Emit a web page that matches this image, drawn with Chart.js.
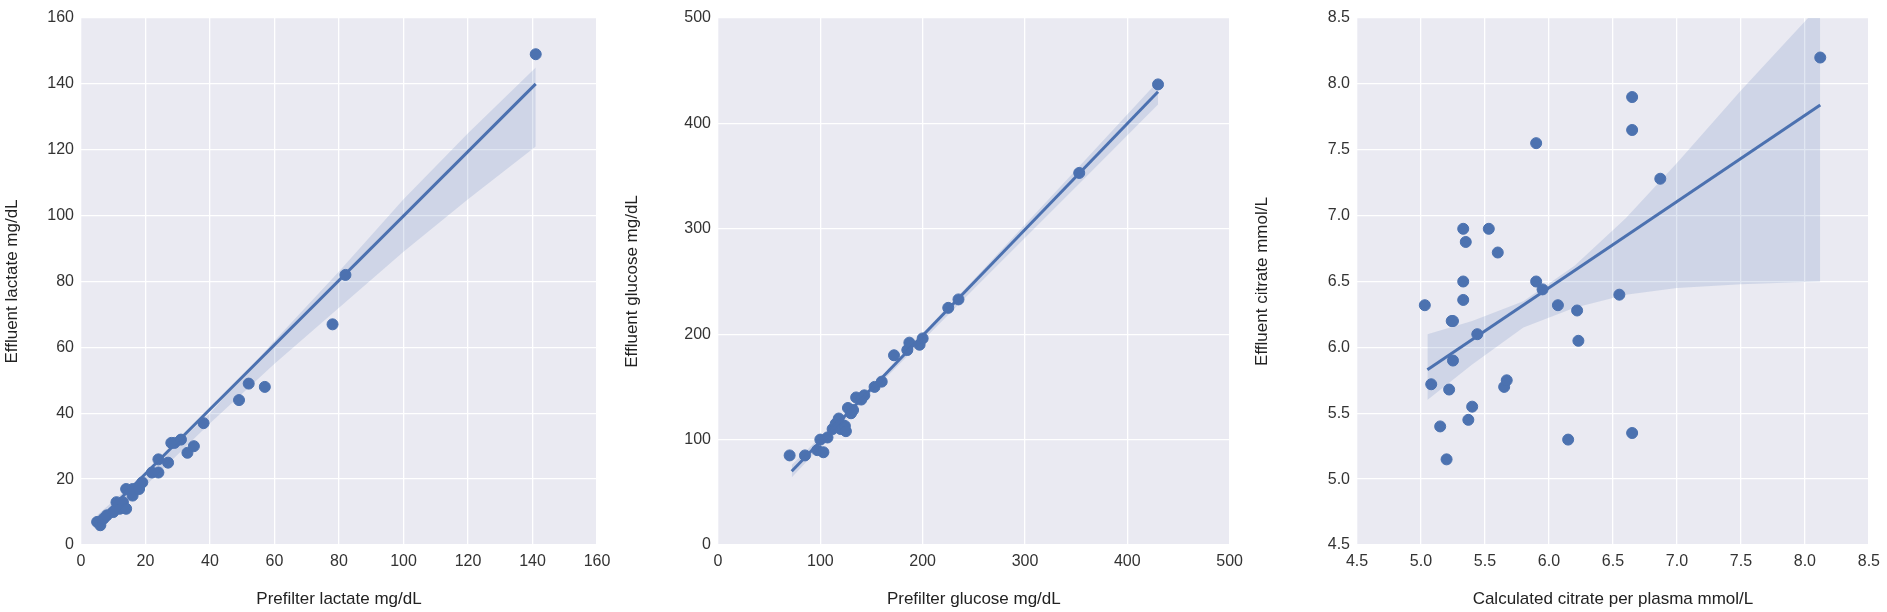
<!DOCTYPE html>
<html>
<head>
<meta charset="utf-8">
<script src="https://cdn.jsdelivr.net/npm/chart.js@4"></script>
<style>
  body { margin: 0; background: #fff; }
  .panel { position: absolute; top: 0; height: 612px; }
</style>
</head>
<body>
<div class="panel" style="left:0;width:620px"><canvas id="c1"></canvas></div>
<div class="panel" style="left:620px;width:630px"><canvas id="c2"></canvas></div>
<div class="panel" style="left:1250px;width:637px"><canvas id="c3"></canvas></div>
<script>
// lactate
const lacX = [5, 6, 7, 8, 10, 11, 12, 13, 14, 14, 16, 16, 18, 19, 22, 24, 24, 27, 28, 29, 31, 33, 35, 38, 49, 52, 57, 78, 82, 141];
const lacY = [7, 6, 8, 9, 10, 13, 11, 13, 17, 11, 15, 17, 17, 19, 22, 22, 26, 25, 31, 31, 32, 28, 30, 37, 44, 49, 48, 67, 82, 149];
const lacFitX = [5, 141];
const lacFitY = [7, 140];
const lacBandX = [5, 20, 40, 60, 80, 100, 120, 141];
const lacBandLo = [4, 18, 37, 55, 72, 89, 105, 121];
const lacBandHi = [9, 22, 40, 62, 83, 105, 125, 145];

// glucose
const gluX = [70, 85, 97, 100, 103, 107, 112, 115, 118, 120, 124, 125, 127, 130, 132, 135, 140, 143, 153, 160, 172, 185, 187, 197, 200, 225, 235, 353, 430];
const gluY = [85, 85, 90, 100, 88, 102, 110, 115, 120, 110, 113, 108, 130, 125, 128, 140, 138, 142, 150, 155, 180, 185, 192, 190, 196, 225, 233, 353, 437];
const gluFitX = [72, 430];
const gluFitY = [70, 430];
const gluBandX = [72, 150, 250, 350, 430];
const gluBandLo = [64, 145, 243, 340, 418];
const gluBandHi = [76, 150, 252, 356, 440];

// citrate
const citX = [5.03, 5.08, 5.15, 5.2, 5.22, 5.24, 5.25, 5.25, 5.33, 5.35, 5.33, 5.33, 5.37, 5.4, 5.44, 5.53, 5.6, 5.65, 5.67, 5.9, 5.9, 5.95, 6.07, 6.15, 6.22, 6.23, 6.55, 6.65, 6.65, 6.65, 6.87, 8.12];
const citY = [6.32, 5.72, 5.4, 5.15, 5.68, 6.2, 6.2, 5.9, 6.9, 6.8, 6.5, 6.36, 5.45, 5.55, 6.1, 6.9, 6.72, 5.7, 5.75, 7.55, 6.5, 6.44, 6.32, 5.3, 6.28, 6.05, 6.4, 7.9, 7.65, 5.35, 7.28, 8.2];
const citFitX = [5.05, 8.12];
const citFitY = [5.83, 7.84];
const citBandX = [5.05, 5.4, 5.8, 6.2, 6.6, 7.0, 7.5, 8.12];
const citBandLo = [5.6, 5.87, 6.15, 6.3, 6.4, 6.45, 6.48, 6.5];
const citBandHi = [6.1, 6.2, 6.35, 6.62, 6.98, 7.4, 7.95, 8.6];

const blue = "#4C72B0";
const pairs = (xs, ys) => xs.map((x, i) => ({ x: x, y: ys[i] }));

const bgPlugin = {
  id: "bg",
  beforeDraw(chart) {
    const a = chart.chartArea, c = chart.ctx;
    c.save();
    c.fillStyle = "#EAEAF2";
    c.fillRect(a.left, a.top, a.right - a.left, a.bottom - a.top);
    c.restore();
  }
};

function makeChart(id, o) {
  const tick = { color: "#333", font: { family: "Liberation Sans", size: 16 }, padding: 7 };
  const title = (t) => ({ display: true, text: t, color: "#222", padding: { top: 2, bottom: 2 },
    font: { family: "Liberation Sans", size: 17 } });
  new Chart(document.getElementById(id), {
    type: "scatter",
    data: {
      datasets: [
        { data: pairs(o.bx, o.lo), showLine: true, pointRadius: 0, borderWidth: 0, fill: false },
        { data: pairs(o.bx, o.hi), showLine: true, pointRadius: 0, borderWidth: 0, fill: "-1", backgroundColor: "rgba(76,114,176,0.17)" },
        { data: pairs(o.fx, o.fy), showLine: true, pointRadius: 0, borderColor: blue, borderWidth: 3 },
        { data: pairs(o.x, o.y), pointRadius: 5.5, backgroundColor: blue, borderColor: blue }
      ]
    },
    options: {
      responsive: true, maintainAspectRatio: false, animation: false,
      layout: { padding: { top: 18, right: o.pr } },
      plugins: { legend: { display: false }, tooltip: { enabled: false } },
      scales: {
        x: {
          min: o.xmin, max: o.xmax, ticks: Object.assign({ stepSize: o.xstep, callback: o.fmt }, tick),
          grid: { color: "#fff", lineWidth: 1.3, drawTicks: false }, border: { display: false },
          title: title(o.xt),
          afterFit(s) { s.height = 67; }
        },
        y: {
          min: o.ymin, max: o.ymax, ticks: Object.assign({ stepSize: o.ystep, callback: o.fmt }, tick),
          grid: { color: "#fff", lineWidth: 1.3, drawTicks: false }, border: { display: false },
          title: title(o.yt),
          afterFit(s) { s.width = o.yw; }
        }
      }
    },
    plugins: [bgPlugin]
  });
}

const intFmt = (v) => v;
const decFmt = (v) => v.toFixed(1);

makeChart("c1", { x: lacX, y: lacY, fx: lacFitX, fy: lacFitY, bx: lacBandX, lo: lacBandLo, hi: lacBandHi,
  xmin: 0, xmax: 160, xstep: 20, ymin: 0, ymax: 160, ystep: 20, fmt: intFmt,
  xt: "Prefilter lactate mg/dL", yt: "Effluent lactate mg/dL", yw: 81, pr: 23 });
makeChart("c2", { x: gluX, y: gluY, fx: gluFitX, fy: gluFitY, bx: gluBandX, lo: gluBandLo, hi: gluBandHi,
  xmin: 0, xmax: 500, xstep: 100, ymin: 0, ymax: 500, ystep: 100, fmt: intFmt,
  xt: "Prefilter glucose mg/dL", yt: "Effluent glucose mg/dL", yw: 98, pr: 20 });
makeChart("c3", { x: citX, y: citY, fx: citFitX, fy: citFitY, bx: citBandX, lo: citBandLo, hi: citBandHi,
  xmin: 4.5, xmax: 8.5, xstep: 0.5, ymin: 4.5, ymax: 8.5, ystep: 0.5, fmt: decFmt,
  xt: "Calculated citrate per plasma mmol/L", yt: "Effluent citrate mmol/L", yw: 107, pr: 16 });
</script>
</body>
</html>
